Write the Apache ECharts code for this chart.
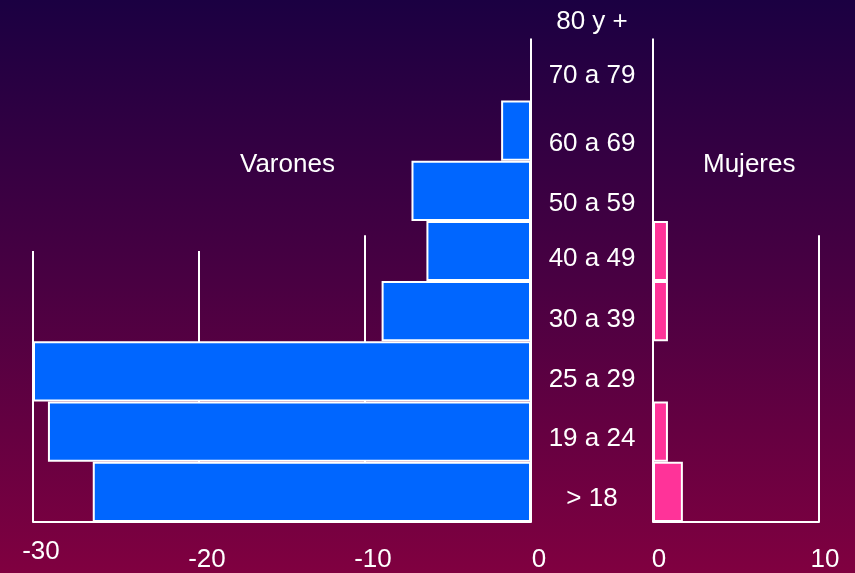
<!DOCTYPE html>
<html>
<head>
<meta charset="utf-8">
<style>
  html, body { margin: 0; padding: 0; }
  #chart { width: 855px; height: 573px; }
</style>
<script src="https://cdn.jsdelivr.net/npm/echarts@6/dist/echarts.min.js"></script>
</head>
<body>
<div id="chart"></div>
<script>
// ---- data ----
const categories = ['> 18', '19 a 24', '25 a 29', '30 a 39', '40 a 49', '50 a 59', '60 a 69', '70 a 79', '80 y +'];
const varones = [26.4, 29.1, 30.0, 9.0, 6.3, 7.2, 1.8, 0, 0];
const mujeres = [1.8, 0.9, 0, 0.9, 0.9, 0, 0, 0, 0];
const leftTicks = [-30, -20, -10, 0];
const rightTicks = [0, 10];

// ---- style: guide line extents (band units, via hidden value axis) ----
const leftGuides = [[-30, 4.0], [-20, 4.0], [-10, 4.26], [0, 7.53]];
const rightGuides = [[0, 7.53], [10, 4.26]];
// ---- style: vertical nudge of each category label (line heights) ----
const labelLineHeights = [14, 14, 16, 18, 16, 26, 26, 10, 24];

const FONT = 'Liberation Sans, Arial, sans-serif';
const white = '#ffffff';

function guideSeries(list, gridIdx) {
  return list.map(function (g) {
    return {
      type: 'line',
      xAxisIndex: gridIdx,
      yAxisIndex: gridIdx + 2,
      data: [[g[0], -0.5], [g[0], g[1]]],
      symbol: 'none',
      clip: false,
      silent: true,
      z: 1,
      lineStyle: { color: white, width: 2 }
    };
  });
}

const catRich = {};
labelLineHeights.forEach(function (lh, i) {
  catRich['c' + i] = { color: white, fontSize: 26, fontFamily: FONT, lineHeight: lh };
});

const chart = echarts.init(document.getElementById('chart'), null, { renderer: 'canvas' });

const option = {
  animation: false,
  backgroundColor: {
    type: 'linear', x: 0, y: 0, x2: 0, y2: 1,
    colorStops: [
      { offset: 0, color: '#1b0042' },
      { offset: 0.5, color: '#4a0042' },
      { offset: 1, color: '#800040' }
    ]
  },
  textStyle: { fontFamily: FONT },
  title: [
    { text: 'Varones', left: 240, top: 152, textStyle: { color: white, fontSize: 26, fontWeight: 'normal', fontFamily: FONT }, padding: 0 },
    { text: 'Mujeres', left: 703, top: 152, textStyle: { color: white, fontSize: 26, fontWeight: 'normal', fontFamily: FONT }, padding: 0 }
  ],
  grid: [
    { left: 33, right: 324, top: -20, bottom: 51, outerBoundsMode: 'none', containLabel: false },
    { left: 653, right: 36, top: -20, bottom: 51, outerBoundsMode: 'none', containLabel: false }
  ],
  xAxis: [
    {
      gridIndex: 0, type: 'value', min: -30, max: 0, interval: 10,
      axisLine: { show: true, onZero: false, lineStyle: { color: white, width: 2 } },
      axisTick: { show: false },
      splitLine: { show: false },
      axisLabel: {
        color: white, fontSize: 26, fontFamily: FONT, margin: 25, padding: [0, 0, 0, 16],
        showMinLabel: true, showMaxLabel: true,
        formatter: function (v) { return v === -30 ? '{up|' + v + '}' : '{n|' + v + '}'; },
        rich: {
          up: { color: white, fontSize: 26, fontFamily: FONT, lineHeight: 10 },
          n: { color: white, fontSize: 26, fontFamily: FONT, lineHeight: 26 }
        }
      }
    },
    {
      gridIndex: 1, type: 'value', min: 0, max: 10, interval: 10,
      axisLine: { show: true, onZero: false, lineStyle: { color: white, width: 2 } },
      axisTick: { show: false },
      splitLine: { show: false },
      axisLabel: { color: white, fontSize: 26, fontFamily: FONT, margin: 25, lineHeight: 26, padding: [0, 0, 0, 12], showMinLabel: true, showMaxLabel: true }
    }
  ],
  yAxis: [
    {
      gridIndex: 0, type: 'category', data: categories, position: 'right',
      axisLine: { show: false }, axisTick: { show: false }, splitLine: { show: false },
      axisLabel: {
        color: white, fontSize: 26, fontFamily: FONT, margin: 61, align: 'center',
        verticalAlign: 'top', interval: 0,
        formatter: function (v, i) { return '{c' + i + '|' + v + '}'; },
        rich: catRich
      }
    },
    {
      gridIndex: 1, type: 'category', data: categories,
      axisLine: { show: false }, axisTick: { show: false }, splitLine: { show: false },
      axisLabel: { show: false }
    },
    { gridIndex: 0, type: 'value', min: -0.5, max: 8.5, show: false },
    { gridIndex: 1, type: 'value', min: -0.5, max: 8.5, show: false }
  ],
  series: [
    {
      name: 'Varones', type: 'bar', xAxisIndex: 0, yAxisIndex: 0,
      data: varones.map(function (v) { return v === 0 ? '-' : -v; }),
      barCategoryGap: '0%',
      itemStyle: { color: '#0066ff', borderColor: white, borderWidth: 2 },
      z: 3
    },
    {
      name: 'Mujeres', type: 'bar', xAxisIndex: 1, yAxisIndex: 1,
      data: mujeres.map(function (v) { return v === 0 ? '-' : v; }),
      barCategoryGap: '0%',
      itemStyle: { color: '#ff3399', borderColor: white, borderWidth: 2 },
      z: 3
    }
  ].concat(guideSeries(leftGuides, 0), guideSeries(rightGuides, 1))
};

chart.setOption(option);
</script>
</body>
</html>
